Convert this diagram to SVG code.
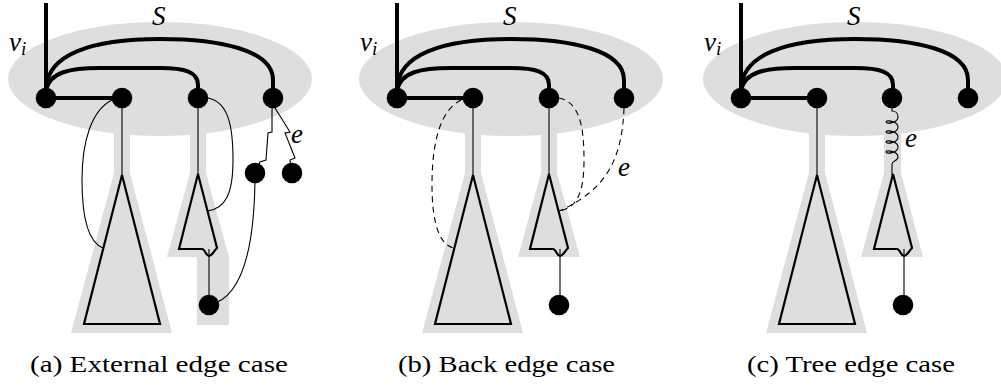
<svg xmlns="http://www.w3.org/2000/svg" width="1001" height="385" viewBox="0 0 1001 385">
<style>
.reg{fill:#dedede}
.tri{fill:#dedede;stroke:#000;stroke-width:2.2;stroke-linejoin:miter}
.thick{fill:none;stroke:#000;stroke-width:4}
.thin{fill:none;stroke:#000;stroke-width:1.1}
.dash{fill:none;stroke:#000;stroke-width:1.1;stroke-dasharray:6 4.5}
.nd{fill:#000}
.math{font-family:'Liberation Serif','DejaVu Serif',serif;font-style:italic;font-size:27px;fill:#000}
.cap{font-family:'Liberation Serif','DejaVu Serif',serif;font-size:23px;fill:#000}
</style>
<defs>
<g id="base">
<ellipse class="reg" cx="160" cy="79" rx="152" ry="57"/>
<polygon class="reg" points="114,120 130,120 130,173 172,333 71,333 114,173"/>
</g>
</defs>

<!-- Panel (a) -->
<g id="panel-a">
<g id="regions-a">
<use href="#base"/>
<polygon class="reg" points="190,120 206,120 206,173 229,257 229,325 197,325 197,257 167,257 190,173"/>
</g>
<g id="a-tree1"><polygon class="tri" points="122,175 160,324 84,324"/></g>
<g id="a-tree2"><path class="tri" d="M198,174 L179,249 L202,249 C205,249 206,256 209,256 C212,256 213,252 217,248 Z"/></g>
<g id="connectors-a">
<path class="thick" d="M46,3 L46,98 L122,98"/>
<path class="thick" d="M46,88 C48,55 90,39 160,39 C220,39 273,50 273,80 L273,98"/>
<path class="thick" d="M46,90 C50,72 70,68 100,68 L160,68 C185,68 198,72 198,85 L198,98"/>
<path class="thin" d="M122,98 L122,175"/>
<path class="thin" d="M198,98 L198,175"/>
<path class="thin" d="M209,249 L209,305"/>
<path class="thin" d="M112,100 C92,110 82,140 82,180 C82,222 90,243 103,248"/>
<path class="thin" d="M208,98 C228,102 233,125 233,160 C233,195 225,208 208,211"/>
<path class="thin" d="M255,173 C255,240 245,298 209,305"/>
<path class="thin" d="M273,98 L272,110 L272,132 L268,133 L266,160 L260,162 L255,173"/>
<path class="thin" d="M273,98 L275,108 L290,132 L285,133 L295,158 L290,160 L292,173"/>
</g>
<g id="a-v1"><circle class="nd" cx="46" cy="98" r="10.3"/></g>
<g id="a-v2"><circle class="nd" cx="122" cy="98" r="10.3"/></g>
<g id="a-v3"><circle class="nd" cx="198" cy="98" r="10.3"/></g>
<g id="a-v4"><circle class="nd" cx="273" cy="98" r="10.3"/></g>
<g id="a-w1"><circle class="nd" cx="255" cy="173" r="10.3"/></g>
<g id="a-w2"><circle class="nd" cx="292" cy="173" r="10.3"/></g>
<g id="a-w3"><circle class="nd" cx="209" cy="305" r="10.3"/></g>
<text class="math" x="152" y="25">S</text>
<text class="math" x="9" y="51">v<tspan font-size="19" dy="4">i</tspan></text>
<text class="math" x="291" y="143">e</text>
</g>

<!-- Panel (b) -->
<g id="panel-b" transform="translate(351,0)">
<g id="regions-b">
<use href="#base"/>
<polygon class="reg" points="190,120 206,120 206,173 229,257 167,257 190,173"/>
</g>
<g id="b-tree1"><polygon class="tri" points="122,175 160,324 84,324"/></g>
<g id="b-tree2"><path class="tri" d="M198,174 L179,249 L202,249 C205,249 206,256 209,256 C212,256 213,252 217,248 Z"/></g>
<g id="connectors-b">
<path class="thick" d="M46,3 L46,98 L122,98"/>
<path class="thick" d="M46,88 C48,55 90,39 160,39 C220,39 273,50 273,80 L273,98"/>
<path class="thick" d="M46,90 C50,72 70,68 100,68 L160,68 C185,68 198,72 198,85 L198,98"/>
<path class="thin" d="M122,98 L122,175"/>
<path class="thin" d="M198,98 L198,175"/>
<path class="thin" d="M209,249 L209,305"/>
<path class="dash" d="M110,100 C90,110 81,140 81,185 C81,225 89,245 103,248"/>
<path class="dash" d="M208,98 C228,102 233,125 233,160 C233,195 225,208 208,211"/>
<path class="dash" d="M273,108 C271,160 255,190 208,211"/>
</g>
<g id="b-v1"><circle class="nd" cx="46" cy="98" r="10.3"/></g>
<g id="b-v2"><circle class="nd" cx="122" cy="98" r="10.3"/></g>
<g id="b-v3"><circle class="nd" cx="198" cy="98" r="10.3"/></g>
<g id="b-v4"><circle class="nd" cx="273" cy="98" r="10.3"/></g>
<g id="b-w3"><circle class="nd" cx="208" cy="305" r="10.3"/></g>
<text class="math" x="152" y="25">S</text>
<text class="math" x="9" y="51">v<tspan font-size="19" dy="4">i</tspan></text>
<text class="math" x="267" y="176">e</text>
</g>

<!-- Panel (c) -->
<g id="panel-c" transform="translate(695,0)">
<g id="regions-c">
<use href="#base"/>
<polygon class="reg" points="189,120 206,120 206,173 228,257 166,257 189,173"/>
</g>
<g id="c-tree1"><polygon class="tri" points="122,175 160,324 84,324"/></g>
<g id="c-tree2"><path class="tri" d="M198,174 L179,249 L202,249 C205,249 206,256 209,256 C212,256 213,252 217,248 Z"/></g>
<g id="connectors-c">
<path class="thick" d="M46,3 L46,98 L122,98"/>
<path class="thick" d="M46,88 C48,55 90,39 160,39 C220,39 273,50 273,80 L273,98"/>
<path class="thick" d="M46,90 C50,72 70,68 100,68 L160,68 C185,68 198,72 198,85 L198,98"/>
<path class="thin" d="M122,98 L122,175"/>
<path class="thin" d="M209,249 L209,305"/>
<path class="thin" d="M197,108 L197,111 C200,111 203,113 203,117 C203,122.9 191,124.5 191,122 C191,119.5 203,121.1 203,127 C203,132.9 191,134.5 191,132 C191,129.5 203,131.1 203,137 C203,142.9 191,144.5 191,142 C191,139.5 203,141.1 203,147 C203,152.9 191,154.5 191,152 C191,149.5 203,151.1 203,157 C203,161 197,161 197,164 L197,175"/>
</g>
<g id="c-v1"><circle class="nd" cx="46" cy="98" r="10.3"/></g>
<g id="c-v2"><circle class="nd" cx="122" cy="98" r="10.3"/></g>
<g id="c-v3"><circle class="nd" cx="197" cy="98" r="10.3"/></g>
<g id="c-v4"><circle class="nd" cx="273" cy="98" r="10.3"/></g>
<g id="c-w3"><circle class="nd" cx="208" cy="305" r="10.3"/></g>
<text class="math" x="152" y="25">S</text>
<text class="math" x="9" y="51">v<tspan font-size="19" dy="4">i</tspan></text>
<text class="math" x="210" y="147">e</text>
</g>

<g id="captions">
<text class="cap" x="30" y="372" textLength="258" lengthAdjust="spacingAndGlyphs">(a)  External edge case</text>
<text class="cap" x="398" y="372" textLength="217" lengthAdjust="spacingAndGlyphs">(b)  Back edge case</text>
<text class="cap" x="747" y="372" textLength="208" lengthAdjust="spacingAndGlyphs">(c)  Tree edge case</text>
</g>
</svg>
